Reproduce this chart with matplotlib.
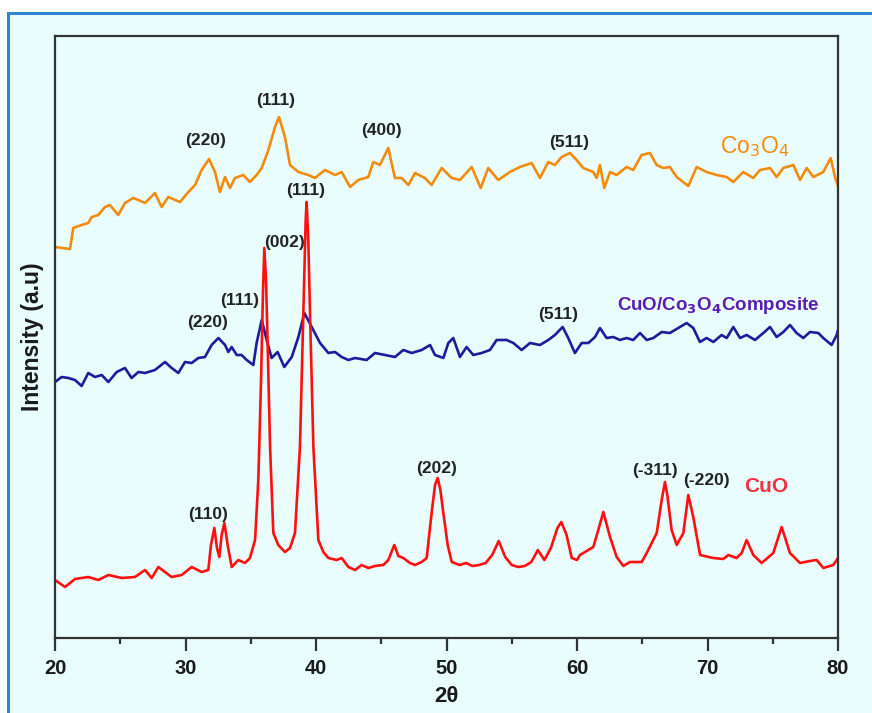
import matplotlib
matplotlib.use("Agg")
import matplotlib.pyplot as plt
from matplotlib.patches import Rectangle

plt.rcParams['font.family'] = ['Liberation Sans', 'DejaVu Sans']

# ---- data (2theta in degrees, intensity in arbitrary units) ----
cuo_x = [20.0, 20.77, 21.53, 22.55, 23.32, 24.09, 25.11, 26.13, 26.9, 27.41, 27.92, 28.94, 29.71,
         30.47, 31.24, 31.75, 31.95, 32.21, 32.41, 32.59, 32.77, 32.98, 33.23, 33.54, 34.05, 34.56,
         34.94, 35.33, 35.58, 35.79, 35.94, 36.04, 36.17, 36.3, 36.48, 36.73, 37.11, 37.62, 38.01,
         38.39, 38.77, 39.03, 39.21, 39.28, 39.41, 39.54, 39.8, 40.18, 40.56, 40.95, 41.58, 41.97,
         42.48, 42.99, 43.5, 44.01, 44.52, 45.16, 45.54, 46.0, 46.31, 46.69, 47.2, 47.59, 48.1,
         48.48, 48.86, 49.12, 49.32, 49.53, 49.76, 50.09, 50.4, 51.0, 51.5, 52.0, 52.5, 53.0, 53.5,
         54.0, 54.5, 55.0, 55.5, 56.0, 56.5, 57.0, 57.5, 58.0, 58.5, 58.8, 59.2, 59.6, 60.0, 60.23,
         61.25, 61.63, 62.02, 62.53, 63.04, 63.55, 64.06, 64.96, 65.34, 66.11, 66.49, 66.74, 66.92,
         67.25, 67.64, 68.15, 68.53, 68.91, 69.43, 70.45, 71.21, 71.6, 72.23, 72.62, 73.0, 73.51,
         74.15, 75.04, 75.68, 76.32, 77.09, 77.85, 78.36, 78.88, 79.64, 80.0]
cuo_y = [58, 51, 59, 61, 58, 63, 60, 61, 68, 60, 71, 61, 63,
         71, 66, 68, 93, 110, 90, 81, 103, 115, 93, 71, 78, 75,
         80, 98, 158, 258, 348, 390, 358, 291, 191, 105, 93, 86, 90,
         105, 191, 325, 418, 436, 398, 325, 191, 98, 86, 80, 78, 80,
         71, 68, 73, 70, 72, 73, 78, 93, 82, 80, 75, 73, 76,
         80, 125, 153, 160, 148, 125, 93, 76, 73, 75, 72, 73, 75, 83,
         97, 81, 73, 71, 72, 76, 88, 78, 90, 110, 116, 103, 80, 78, 83,
         91, 108, 126, 101, 81, 72, 76, 76, 85, 105, 138, 156, 143,
         108, 93, 105, 143, 121, 83, 80, 79, 83, 80, 85, 98, 83,
         75, 85, 111, 85, 75, 77, 78, 70, 73, 80]

comp_x = [20.0, 20.51, 21.02, 21.53, 22.04, 22.55, 23.07, 23.58, 24.09, 24.73, 25.36, 25.87, 26.39,
          26.9, 27.66, 28.43, 28.94, 29.45, 29.96, 30.47, 30.98, 31.49, 32.0, 32.52, 33.03, 33.28,
          33.54, 33.92, 34.3, 34.69, 35.2, 35.45, 35.84, 36.22, 36.6, 37.06, 37.57, 38.14, 38.65,
          39.11, 39.67, 40.31, 40.95, 41.46, 41.97, 42.48, 42.99, 43.88, 44.52, 45.29, 46.05, 46.69,
          47.33, 48.1, 48.74, 49.12, 49.76, 50.14, 50.52, 51.03, 51.54, 52.05, 52.69, 53.33, 53.84,
          54.61, 55.12, 55.76, 56.4, 57.16, 57.8, 58.31, 58.9, 59.33, 59.84, 60.36, 60.87, 61.38,
          61.76, 62.27, 62.78, 63.29, 63.8, 64.31, 64.83, 65.34, 65.85, 66.49, 67.12, 67.76, 68.4,
          68.91, 69.42, 69.93, 70.45, 71.08, 71.47, 71.98, 72.49, 73.0, 73.64, 74.28, 74.79, 75.3,
          75.81, 76.32, 76.83, 77.34, 77.85, 78.49, 78.87, 79.51, 79.9, 80.0]
comp_y = [256, 261, 260, 258, 252, 265, 261, 263, 256, 266, 270, 260, 266,
          265, 268, 276, 270, 265, 276, 275, 280, 281, 293, 300, 293, 286,
          291, 283, 283, 278, 273, 295, 318, 298, 280, 286, 271, 281, 301,
          325, 311, 295, 285, 286, 281, 278, 280, 278, 285, 283, 281, 288,
          285, 288, 293, 283, 280, 295, 300, 281, 291, 283, 285, 288, 298,
          298, 295, 288, 295, 293, 298, 303, 311, 300, 285, 295, 295, 301,
          310, 300, 301, 298, 300, 298, 305, 298, 300, 306, 305, 310, 315,
          310, 296, 300, 296, 303, 300, 311, 300, 303, 298, 305, 311, 301,
          306, 313, 305, 300, 306, 305, 300, 293, 303, 308]

co3o4_x = [20.0, 21.15, 21.4, 22.04, 22.55, 22.81, 23.32, 23.83, 24.21, 24.85, 25.36, 26.0, 26.39,
           26.9, 27.66, 28.17, 28.68, 29.58, 30.22, 30.73, 31.24, 31.8, 32.26, 32.64, 33.03, 33.41,
           33.79, 34.43, 34.94, 35.45, 35.84, 36.35, 36.86, 37.16, 37.62, 38.01, 38.65, 39.41, 39.92,
           40.69, 41.46, 41.97, 42.61, 43.24, 44.01, 44.39, 44.9, 45.54, 46.05, 46.56, 47.08, 47.59,
           48.35, 48.86, 49.63, 50.4, 51.03, 51.93, 52.62, 53.2, 53.97, 54.86, 55.63, 56.52, 57.16,
           57.8, 58.31, 58.82, 59.46, 59.97, 60.48, 61.25, 61.5, 61.76, 62.09, 62.53, 63.04, 63.8,
           64.31, 64.95, 65.59, 66.1, 66.61, 67.12, 67.64, 68.53, 69.17, 69.93, 70.7, 71.47, 71.98,
           72.74, 73.51, 74.02, 74.79, 75.3, 75.81, 76.58, 77.09, 77.6, 78.11, 78.87, 79.44, 79.77, 80.0]
co3o4_y = [391, 389, 410, 413, 415, 421, 423, 431, 433, 423, 435, 440, 438,
           435, 445, 431, 441, 436, 446, 453, 468, 479, 466, 446, 461, 450,
           460, 463, 456, 463, 470, 488, 511, 521, 501, 473, 466, 463, 460,
           468, 463, 466, 451, 458, 461, 476, 473, 490, 460, 460, 453, 465,
           460, 453, 470, 460, 458, 471, 450, 470, 458, 466, 471, 475, 460,
           476, 473, 481, 485, 478, 470, 466, 460, 473, 450, 466, 463, 471,
           468, 483, 485, 473, 470, 471, 461, 452, 471, 466, 463, 461, 456,
           466, 460, 468, 470, 461, 470, 473, 458, 470, 461, 466, 480, 461, 452]

x_ticks = [20, 30, 40, 50, 60, 70, 80]

# peak labels: (text, 2theta, intensity)
co3o4_peaks = [("(220)", 31.5, 498), ("(111)", 36.93, 538), ("(400)", 44.98, 507), ("(511)", 59.39, 495)]
comp_peaks = [("(220)", 31.72, 316), ("(111)", 34.18, 338), ("(511)", 58.54, 324)]
cuo_peaks = [("(002)", 37.62, 396), ("(111)", 39.23, 448), ("(110)", 31.72, 123),
             ("(202)", 49.27, 170), ("(-311)", 65.98, 168), ("(-220)", 69.89, 158)]

# ---- figure ----
W, H = 872, 713
fig = plt.figure(figsize=(W / 100, H / 100), dpi=100)
fig.patch.set_facecolor('white')
bg = '#EAFDFD'
fig.patches.append(Rectangle((8 / W, -0.05), 1.2, (H - 13) / H + 0.05, transform=fig.transFigure,
                             facecolor=bg, edgecolor='#2E86D1', linewidth=2.2, zorder=-10))

ax = fig.add_axes([55 / W, 1 - 638 / H, (838 - 55) / W, (638 - 36) / H])
ax.set_facecolor(bg)

ax.plot(co3o4_x, co3o4_y, color='#F28C0F', lw=1.9)
ax.plot(comp_x, comp_y, color='#1C1C9C', lw=1.9)
ax.plot(cuo_x, cuo_y, color='#FF1010', lw=1.9)

for lst in (co3o4_peaks, comp_peaks, cuo_peaks):
    for t, x, y in lst:
        ax.text(x, y, t, ha='center', va='center', fontsize=12.5, fontweight='bold', color='#222222')

ax.text(73.64, 491, r'Co$_3$O$_4$', ha='center', va='center', fontsize=16.5, color='#F28C0F')
ax.text(70.8, 332, r'CuO/Co$_\mathbf{3}$O$_\mathbf{4}$Composite', ha='center', va='center',
        fontsize=13.5, fontweight='bold', color='#5A1DB0')
ax.text(74.48, 151, 'CuO', ha='center', va='center', fontsize=15, fontweight='bold', color='#EE3344')

ax.set_xlim(20, 80)
ax.set_ylim(0, 602)
ax.set_xticks(x_ticks)
ax.set_xticks([25, 35, 45, 55, 65, 75], minor=True)
ax.set_yticks([])
ax.tick_params(axis='x', which='major', direction='out', length=9, width=1.6, color='#333333',
               labelsize=14.5, pad=6)
ax.tick_params(axis='x', which='minor', direction='out', length=4, width=1.6, color='#333333')
for lab in ax.get_xticklabels():
    lab.set_fontweight('bold')
    lab.set_color('#1a1a1a')
for s in ax.spines.values():
    s.set_linewidth(1.6)
    s.set_color('#333333')

ax.set_xlabel('2θ', fontsize=16, fontweight='bold', labelpad=6, color='#1a1a1a')
ax.set_ylabel('Intensity (a.u)', fontsize=16.5, fontweight='bold', labelpad=8, color='#1a1a1a')

fig.savefig('out.png', dpi=100, facecolor=fig.get_facecolor())
